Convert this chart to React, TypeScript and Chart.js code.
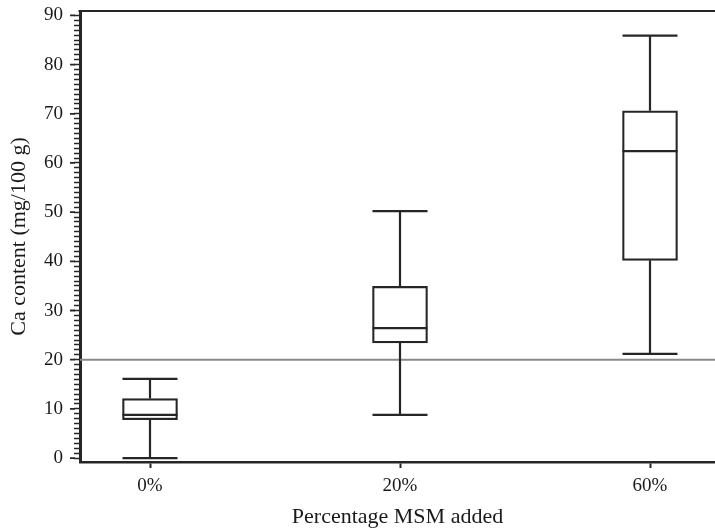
import { useEffect, useRef } from "react";
import { Chart, registerables } from "chart.js";

Chart.register(...registerables);

// Calcium content by percentage of mechanically separated meat added
const groups = ["0%", "20%", "60%"];
const whiskerLow = [0, 8.8, 21.2];
const quartile1 = [7.8, 23.4, 40.2];
const medians = [8.8, 26.4, 62.4];
const quartile3 = [12.1, 34.9, 70.6];
const whiskerHigh = [16.1, 50.2, 85.9];
const referenceLevel = 20;

const INK = "#262626";
const BOX_WIDTH = 55;
const FONT = "'Liberation Serif', 'Times New Roman', serif";

const boxPlotExtras = {
  id: "boxPlotExtras",
  beforeDatasetsDraw(chart: any) {
    const { ctx, chartArea, scales } = chart;
    const y = scales.y.getPixelForValue(referenceLevel);
    ctx.save();
    ctx.strokeStyle = "#8a8a8a";
    ctx.lineWidth = 2;
    ctx.beginPath();
    ctx.moveTo(chartArea.left, y);
    ctx.lineTo(chartArea.right, y);
    ctx.stroke();
    ctx.restore();
  },
  afterDatasetsDraw(chart: any) {
    const { ctx, scales } = chart;
    const xs = scales.x;
    const ys = scales.y;
    const half = BOX_WIDTH / 2;
    ctx.save();
    ctx.strokeStyle = INK;
    ctx.lineWidth = 2.2;
    ctx.lineCap = "butt";
    groups.forEach((_, i) => {
      const cx = xs.getPixelForValue(i);
      const yLow = ys.getPixelForValue(whiskerLow[i]);
      const yQ1 = ys.getPixelForValue(quartile1[i]);
      const yMed = ys.getPixelForValue(medians[i]);
      const yQ3 = ys.getPixelForValue(quartile3[i]);
      const yHigh = ys.getPixelForValue(whiskerHigh[i]);
      ctx.beginPath();
      // whisker stems
      ctx.moveTo(cx, yQ3);
      ctx.lineTo(cx, yHigh);
      ctx.moveTo(cx, yQ1);
      ctx.lineTo(cx, yLow);
      // caps
      ctx.moveTo(cx - half, yHigh);
      ctx.lineTo(cx + half, yHigh);
      ctx.moveTo(cx - half, yLow);
      ctx.lineTo(cx + half, yLow);
      // median
      ctx.moveTo(cx - half, yMed);
      ctx.lineTo(cx + half, yMed);
      ctx.stroke();
    });
    ctx.restore();
  },
  afterDraw(chart: any) {
    const { ctx, chartArea, scales } = chart;
    const ys = scales.y;
    ctx.save();
    ctx.strokeStyle = INK;
    // top frame line
    ctx.lineWidth = 2;
    ctx.beginPath();
    ctx.moveTo(chartArea.left - 1.5, chartArea.top);
    ctx.lineTo(chartArea.right, chartArea.top);
    ctx.stroke();
    // longer marks for the labelled (major) y ticks
    ctx.lineWidth = 1.8;
    ctx.beginPath();
    ys.ticks.forEach((t: any) => {
      if (Math.round(t.value) % 10 === 0) {
        const py = ys.getPixelForValue(t.value);
        ctx.moveTo(chartArea.left - 10, py);
        ctx.lineTo(chartArea.left - 5, py);
      }
    });
    ctx.stroke();
    ctx.restore();
  },
};

export default function App() {
  const canvasRef = useRef<HTMLCanvasElement | null>(null);

  useEffect(() => {
    if (!canvasRef.current) return;
    const chart = new Chart(canvasRef.current, {
      type: "bar",
      data: {
        datasets: [
          {
            data: groups.map((_, i) => ({ x: i, y: [quartile1[i], quartile3[i]] })) as any,
            backgroundColor: "#ffffff",
            borderColor: INK,
            borderWidth: 2.2,
            borderSkipped: false,
            barThickness: BOX_WIDTH,
          },
        ],
      },
      options: {
        responsive: false,
        animation: false,
        events: [],
        layout: { padding: { top: 11, right: 0, bottom: 0, left: 0 } },
        plugins: {
          legend: { display: false },
          tooltip: { enabled: false },
        },
        scales: {
          x: {
            type: "linear",
            offset: false,
            min: -0.28,
            max: 2.26,
            afterBuildTicks: (scale: any) => {
              scale.ticks = groups.map((_, i) => ({ value: i }));
            },
            afterFit: (scale: any) => {
              scale.height = 68;
              scale.paddingLeft = 0;
              scale.paddingRight = 0;
            },
            ticks: {
              autoSkip: false,
              maxRotation: 0,
              padding: 7,
              color: "#1a1a1a",
              font: { family: FONT, size: 19 },
              callback: (v: any) => groups[Math.round(Number(v))] ?? "",
            },
            grid: {
              display: true,
              offset: false,
              drawOnChartArea: false,
              drawTicks: true,
              tickLength: 6,
              tickWidth: 2,
              tickColor: INK,
            },
            border: { display: true, color: INK, width: 2.5 },
            title: {
              display: true,
              text: "Percentage MSM added",
              color: "#1a1a1a",
              font: { family: FONT, size: 22 },
              padding: { top: 0, bottom: 0 },
            },
          },
          y: {
            type: "linear",
            min: -0.8,
            max: 90.9,
            beginAtZero: false,
            afterFit: (scale: any) => {
              scale.width = 80;
              scale.paddingTop = 0;
              scale.paddingBottom = 0;
            },
            ticks: {
              stepSize: 1,
              includeBounds: false,
              autoSkip: false,
              padding: 11,
              color: "#1a1a1a",
              font: { family: FONT, size: 19 },
              callback: (v: any) => (Math.round(Number(v)) % 10 === 0 ? String(Math.round(Number(v))) : ""),
            },
            grid: {
              display: true,
              drawOnChartArea: false,
              drawTicks: true,
              tickLength: 6,
              tickWidth: 1.5,
              tickColor: INK,
            },
            border: { display: true, color: INK, width: 3 },
            title: {
              display: true,
              text: "Ca content (mg/100 g)",
              color: "#1a1a1a",
              font: { family: FONT, size: 22 },
              padding: { top: 6, bottom: 0 },
            },
          },
        },
      },
      plugins: [boxPlotExtras],
    });
    return () => chart.destroy();
  }, []);

  return (
    <div style={{ position: "fixed", left: 0, top: 0, width: 715, height: 530, background: "#ffffff" }}>
      <canvas ref={canvasRef} width={715} height={530} />
    </div>
  );
}
